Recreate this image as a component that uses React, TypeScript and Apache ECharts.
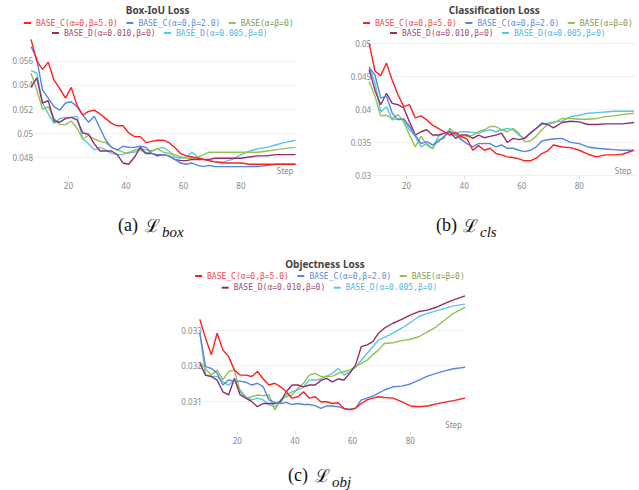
import React, { useEffect, useRef } from "react";
import * as echarts from "echarts";

const steps = [7, 9, 11, 13, 15, 17, 19, 21, 23, 25, 27, 29, 31, 33, 35, 37, 39, 41, 43, 45, 47, 49, 51, 53, 55, 57, 59, 61, 63, 65, 67, 69, 71, 74, 77, 80, 83, 86, 89, 92, 95, 99];

const seriesNames = ["BASE_C(α=0,β=5.0)", "BASE_C(α=0,β=2.0)", "BASE(α=β=0)", "BASE_D(α=0.010,β=0)", "BASE_D(α=0.005,β=0)"];
const lineColors = ["#ff1f1f", "#5585e2", "#94c152", "#962c66", "#58c6e8"];
const legendTextColors = ["#f2474c", "#5b8be0", "#7e9b52", "#a24a7d", "#4db8de"];

// Box-IoU Loss
const boxC5 = [0.0578, 0.0560, 0.0553, 0.0559, 0.0544, 0.0537, 0.0529, 0.0538, 0.0523, 0.0515, 0.0518, 0.0519, 0.0516, 0.0512, 0.0508, 0.0506, 0.0506, 0.0500, 0.0497, 0.0497, 0.0492, 0.0493, 0.0494, 0.0494, 0.0492, 0.0488, 0.0483, 0.0481, 0.0480, 0.0479, 0.0478, 0.0477, 0.0476, 0.0475, 0.0475, 0.0475, 0.0474, 0.0474, 0.0474, 0.0474, 0.0474, 0.0474];
const boxC2 = [0.0572, 0.0562, 0.0536, 0.0529, 0.0522, 0.0519, 0.0525, 0.0526, 0.0522, 0.0515, 0.0509, 0.0514, 0.0504, 0.0494, 0.0488, 0.0486, 0.0489, 0.0488, 0.0488, 0.0489, 0.0488, 0.0483, 0.0482, 0.0482, 0.0481, 0.0478, 0.0475, 0.0474, 0.0475, 0.0473, 0.0472, 0.0473, 0.0472, 0.0472, 0.0472, 0.0472, 0.0472, 0.0472, 0.0473, 0.0474, 0.0474, 0.0474];
const boxBase = [0.0550, 0.0536, 0.0520, 0.0522, 0.0512, 0.0507, 0.0507, 0.0510, 0.0504, 0.0495, 0.0498, 0.0495, 0.0493, 0.0492, 0.0488, 0.0486, 0.0484, 0.0483, 0.0486, 0.0487, 0.0486, 0.0485, 0.0487, 0.0484, 0.0483, 0.0482, 0.0480, 0.0479, 0.0479, 0.0480, 0.0482, 0.0484, 0.0484, 0.0484, 0.0484, 0.0484, 0.0484, 0.0484, 0.0485, 0.0486, 0.0487, 0.0488];
const boxD010 = [0.0538, 0.0546, 0.0525, 0.0527, 0.0510, 0.0509, 0.0512, 0.0513, 0.0511, 0.0500, 0.0499, 0.0491, 0.0485, 0.0485, 0.0485, 0.0482, 0.0475, 0.0474, 0.0480, 0.0488, 0.0483, 0.0483, 0.0481, 0.0482, 0.0481, 0.0478, 0.0477, 0.0477, 0.0478, 0.0478, 0.0478, 0.0478, 0.0479, 0.0479, 0.0479, 0.0479, 0.0480, 0.0481, 0.0481, 0.0482, 0.0482, 0.0482];
const boxD005 = [0.0552, 0.0550, 0.0525, 0.0516, 0.0508, 0.0512, 0.0513, 0.0513, 0.0514, 0.0495, 0.0491, 0.0486, 0.0488, 0.0486, 0.0483, 0.0482, 0.0482, 0.0484, 0.0484, 0.0486, 0.0483, 0.0485, 0.0487, 0.0488, 0.0485, 0.0480, 0.0479, 0.0480, 0.0484, 0.0480, 0.0478, 0.0477, 0.0476, 0.0476, 0.0478, 0.0482, 0.0485, 0.0487, 0.0488, 0.0490, 0.0492, 0.0494];

// Classification Loss
const clsC5 = [0.0500, 0.0458, 0.0451, 0.0470, 0.0444, 0.0422, 0.0404, 0.0407, 0.0387, 0.0390, 0.0384, 0.0376, 0.0371, 0.0366, 0.0361, 0.0365, 0.0359, 0.0355, 0.0338, 0.0345, 0.0338, 0.0341, 0.0333, 0.0331, 0.0328, 0.0327, 0.0325, 0.0322, 0.0322, 0.0326, 0.0333, 0.0337, 0.0346, 0.0343, 0.0342, 0.0338, 0.0332, 0.0328, 0.0331, 0.0331, 0.0332, 0.0338];
const clsC2 = [0.0463, 0.0452, 0.0417, 0.0420, 0.0394, 0.0384, 0.0386, 0.0374, 0.0361, 0.0348, 0.0351, 0.0346, 0.0351, 0.0359, 0.0367, 0.0361, 0.0354, 0.0348, 0.0343, 0.0348, 0.0348, 0.0348, 0.0343, 0.0346, 0.0341, 0.0341, 0.0338, 0.0336, 0.0338, 0.0343, 0.0352, 0.0354, 0.0355, 0.0356, 0.0350, 0.0348, 0.0343, 0.0341, 0.0340, 0.0339, 0.0338, 0.0338];
const clsBase = [0.0442, 0.0420, 0.0390, 0.0391, 0.0386, 0.0392, 0.0381, 0.0361, 0.0343, 0.0359, 0.0346, 0.0340, 0.0354, 0.0356, 0.0371, 0.0364, 0.0356, 0.0359, 0.0361, 0.0366, 0.0369, 0.0374, 0.0374, 0.0369, 0.0366, 0.0371, 0.0364, 0.0351, 0.0352, 0.0359, 0.0369, 0.0377, 0.0379, 0.0386, 0.0386, 0.0385, 0.0385, 0.0386, 0.0389, 0.0390, 0.0392, 0.0394];
const clsD010 = [0.0460, 0.0429, 0.0407, 0.0424, 0.0409, 0.0407, 0.0402, 0.0381, 0.0361, 0.0366, 0.0369, 0.0361, 0.0361, 0.0364, 0.0366, 0.0356, 0.0361, 0.0361, 0.0356, 0.0361, 0.0357, 0.0359, 0.0361, 0.0364, 0.0350, 0.0356, 0.0354, 0.0356, 0.0364, 0.0371, 0.0379, 0.0377, 0.0372, 0.0380, 0.0382, 0.0381, 0.0377, 0.0377, 0.0378, 0.0378, 0.0378, 0.0380];
const clsD005 = [0.0465, 0.0440, 0.0396, 0.0404, 0.0384, 0.0386, 0.0384, 0.0369, 0.0359, 0.0343, 0.0348, 0.0341, 0.0359, 0.0364, 0.0364, 0.0364, 0.0366, 0.0366, 0.0365, 0.0364, 0.0367, 0.0369, 0.0366, 0.0369, 0.0371, 0.0369, 0.0361, 0.0356, 0.0364, 0.0371, 0.0377, 0.0379, 0.0381, 0.0382, 0.0389, 0.0391, 0.0394, 0.0395, 0.0396, 0.0397, 0.0397, 0.0397];

// Objectness Loss
const objC5 = [0.03330, 0.03277, 0.03230, 0.03291, 0.03244, 0.03225, 0.03187, 0.03173, 0.03173, 0.03169, 0.03183, 0.03162, 0.03145, 0.03150, 0.03140, 0.03126, 0.03108, 0.03112, 0.03126, 0.03108, 0.03112, 0.03098, 0.03098, 0.03093, 0.03095, 0.03079, 0.03075, 0.03080, 0.03093, 0.03103, 0.03108, 0.03112, 0.03110, 0.03108, 0.03098, 0.03086, 0.03084, 0.03086, 0.03092, 0.03097, 0.03101, 0.03108];
const objC2 = [0.03291, 0.03197, 0.03192, 0.03178, 0.03145, 0.03159, 0.03156, 0.03156, 0.03153, 0.03145, 0.03150, 0.03140, 0.03103, 0.03096, 0.03093, 0.03096, 0.03090, 0.03093, 0.03090, 0.03090, 0.03087, 0.03079, 0.03086, 0.03086, 0.03084, 0.03079, 0.03077, 0.03079, 0.03103, 0.03108, 0.03114, 0.03122, 0.03131, 0.03140, 0.03142, 0.03148, 0.03159, 0.03170, 0.03178, 0.03185, 0.03191, 0.03195];
const objBase = [0.03211, 0.03190, 0.03173, 0.03187, 0.03160, 0.03183, 0.03187, 0.03126, 0.03108, 0.03112, 0.03117, 0.03115, 0.03117, 0.03075, 0.03103, 0.03112, 0.03117, 0.03136, 0.03150, 0.03173, 0.03178, 0.03169, 0.03169, 0.03170, 0.03178, 0.03183, 0.03187, 0.03197, 0.03206, 0.03215, 0.03230, 0.03244, 0.03262, 0.03264, 0.03270, 0.03274, 0.03281, 0.03295, 0.03309, 0.03328, 0.03347, 0.03364];
const objD010 = [0.03206, 0.03173, 0.03169, 0.03159, 0.03126, 0.03117, 0.03164, 0.03117, 0.03108, 0.03098, 0.03084, 0.03093, 0.03093, 0.03093, 0.03098, 0.03126, 0.03145, 0.03145, 0.03140, 0.03145, 0.03145, 0.03158, 0.03164, 0.03154, 0.03162, 0.03159, 0.03178, 0.03201, 0.03253, 0.03258, 0.03267, 0.03291, 0.03305, 0.03319, 0.03330, 0.03342, 0.03352, 0.03356, 0.03364, 0.03375, 0.03385, 0.03396];
const objD005 = [0.03295, 0.03173, 0.03169, 0.03169, 0.03154, 0.03145, 0.03159, 0.03131, 0.03112, 0.03103, 0.03108, 0.03103, 0.03089, 0.03084, 0.03098, 0.03117, 0.03126, 0.03131, 0.03140, 0.03159, 0.03159, 0.03162, 0.03170, 0.03178, 0.03192, 0.03173, 0.03183, 0.03195, 0.03215, 0.03234, 0.03253, 0.03272, 0.03279, 0.03291, 0.03305, 0.03321, 0.03338, 0.03347, 0.03354, 0.03361, 0.03368, 0.03373];

const boxTicks = [0.048, 0.05, 0.052, 0.054, 0.056];
const clsTicks = [0.03, 0.035, 0.04, 0.045, 0.05];
const objTicks = [0.031, 0.032, 0.033];
const stepTicks = [20, 40, 60, 80];

const panels = [
  {
    title: "Box-IoU Loss", series: [boxC5, boxC2, boxBase, boxD010, boxD005], ticks: boxTicks,
    grid: { left: 31, top: 39, width: 266, height: 137 }, yMin: 0.04642, yMax: 0.05783,
    titlePos: [157.7, 10], legendRows: [[24, 19], [52, 29]], stepPos: [293.5, 170.5],
    caption: { x: 118, y: 216, label: "(a)", sub: "box" },
  },
  {
    title: "Classification Loss", series: [clsC5, clsC2, clsBase, clsD010, clsD005], ticks: clsTicks,
    grid: { left: 369.2, top: 40, width: 266.2, height: 136 }, yMin: 0.0299, yMax: 0.0505,
    titlePos: [494.3, 10], legendRows: [[363, 19], [390, 29]], stepPos: [631.5, 170],
    caption: { x: 436, y: 216, label: "(b)", sub: "cls" },
  },
  {
    title: "Objectness Loss", series: [objC5, objC2, objBase, objD010, objD005], ticks: objTicks,
    grid: { left: 199.8, top: 295, width: 266.7, height: 136 }, yMin: 0.030155, yMax: 0.033986,
    titlePos: [325, 264], legendRows: [[195, 272], [221.7, 283.7]], stepPos: [462, 424],
    caption: { x: 288, y: 466, label: "(c)", sub: "obj" },
  },
];

const drawOrder = [4, 2, 3, 1, 0];

export default function App() {
  const ref = useRef<HTMLDivElement>(null);
  useEffect(() => {
    if (!ref.current) return;
    const chart = echarts.init(ref.current, undefined, { renderer: "svg" });
    const grids: any[] = [];
    const xAxes: any[] = [];
    const yAxes: any[] = [];
    const series: any[] = [];
    const legends: any[] = [];
    const graphics: any[] = [];
    const tickFont = { fontSize: 8, color: "#888", fontFamily: "Noto Sans" };

    panels.forEach((p, pi) => {
      grids.push({ ...p.grid, containLabel: false });
      xAxes.push({
        type: "value", gridIndex: pi, min: 7, max: 99.5,
        axisLine: { show: false },
        axisTick: { show: true, length: 3, customValues: stepTicks, lineStyle: { color: "#dddddd" } },
        axisLabel: { ...tickFont, margin: 5, customValues: stepTicks },
        splitLine: { show: false },
      });
      yAxes.push({
        type: "value", gridIndex: pi, min: p.yMin, max: p.yMax,
        axisLine: { show: false },
        axisTick: { show: false, customValues: p.ticks },
        axisLabel: { ...tickFont, margin: -2, customValues: p.ticks },
        splitLine: { show: true, lineStyle: { color: "#f0f0f0", width: 1 } },
      });
      drawOrder.forEach((k) => {
        series.push({
          type: "line", name: seriesNames[k], xAxisIndex: pi, yAxisIndex: pi,
          data: steps.map((s, i) => [s, p.series[k][i]]),
          showSymbol: false, symbol: "none",
          lineStyle: { width: 1.4, color: lineColors[k] },
          itemStyle: { color: lineColors[k] },
          emphasis: { disabled: true },
        });
      });
      const rows = [[0, 1, 2], [3, 4]];
      rows.forEach((r, ri) => {
        legends.push({
          data: r.map((k) => ({ name: seriesNames[k], textStyle: { color: legendTextColors[k] } })),
          left: p.legendRows[ri][0], top: p.legendRows[ri][1],
          orient: "horizontal", itemWidth: 7, itemHeight: 2, itemGap: 8.5, padding: 0,
          icon: "rect", selectedMode: false,
          textStyle: { fontFamily: "DejaVu Sans Mono", fontSize: 8 },
        });
      });
      graphics.push({
        type: "text", x: p.titlePos[0], y: p.titlePos[1],
        style: { text: p.title, align: "center", verticalAlign: "middle", font: 'bold 10px "Noto Sans"', fill: "#444" },
      });
      graphics.push({
        type: "text", x: p.stepPos[0], y: p.stepPos[1],
        style: { text: "Step", align: "right", verticalAlign: "middle", font: '8px "Noto Sans"', fill: "#888" },
      });
      const c = p.caption;
      graphics.push({
        type: "text", x: c.x, y: c.y,
        style: { text: c.label, align: "left", verticalAlign: "top", font: '18px "Liberation Serif"', fill: "#111" },
      });
      graphics.push({
        type: "text", x: c.x + 27, y: c.y,
        style: { text: "ℒ", align: "left", verticalAlign: "top", font: '18px "DejaVu Serif"', fill: "#111" },
      });
      graphics.push({
        type: "text", x: c.x + 44, y: c.y + 8,
        style: { text: c.sub, align: "left", verticalAlign: "top", font: 'italic 15px "Liberation Serif"', fill: "#111" },
      });
    });

    chart.setOption({
      animation: false,
      backgroundColor: "#ffffff",
      grid: grids,
      xAxis: xAxes,
      yAxis: yAxes,
      legend: legends,
      series,
      graphic: graphics,
    });
    return () => chart.dispose();
  }, []);
  return <div ref={ref} style={{ position: "fixed", left: 0, top: 0, width: 639, height: 490, background: "#fff" }} />;
}
